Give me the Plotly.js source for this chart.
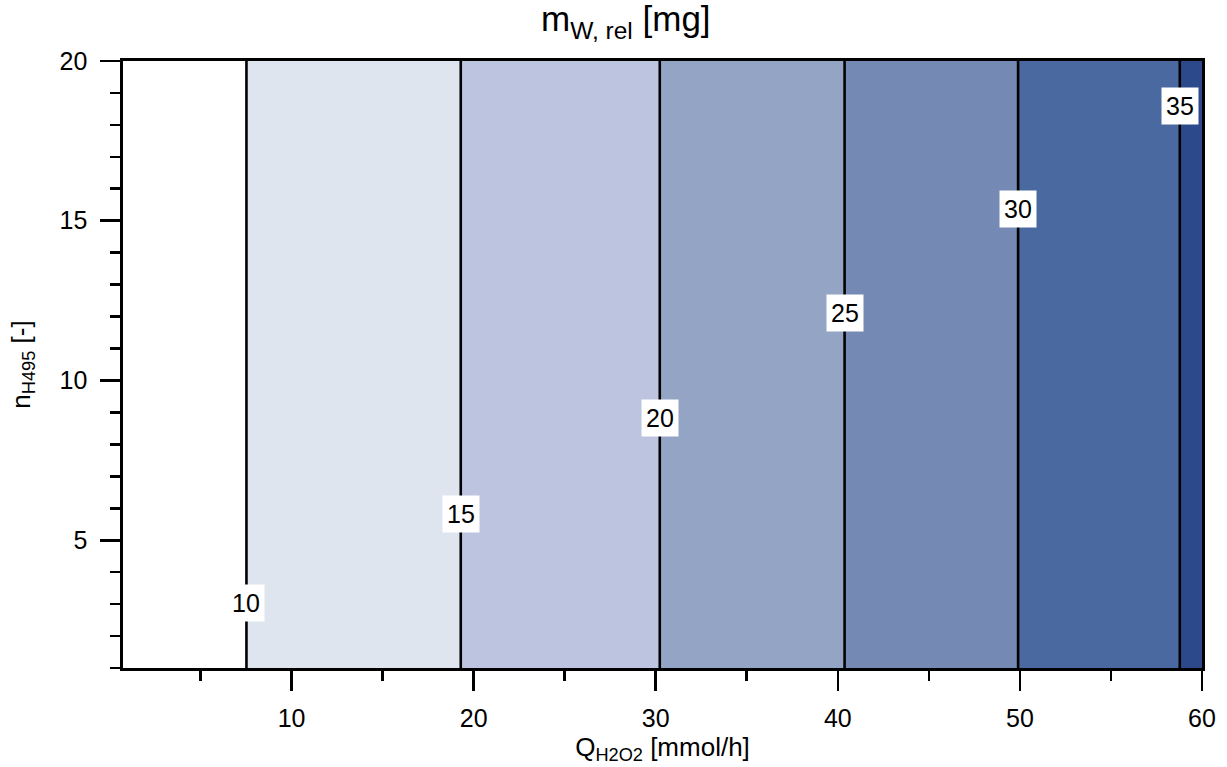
<!DOCTYPE html>
<html>
<head>
<meta charset="utf-8">
<script src="https://cdn.plot.ly/plotly-3.0.1.min.js"></script>
<style>html,body{margin:0;padding:0;background:#fff;}#chart{width:1227px;height:767px;}</style>
</head>
<body>
<div id="chart"></div>
<script>
// Q_H2O2 grid (mmol/h) and m_W,rel values (mg)
const qValues = [0.74, 7.52, 19.29, 30.22, 40.37, 49.90, 58.78, 60];
const mValues = [7.1, 10, 15, 20, 25, 30, 35, 35.7];
// n_H495 grid (-)
const nValues = [1, 20];
// contour levels and label heights
const levels = [10, 15, 20, 25, 30, 35];
const labelY = [3.04, 5.83, 8.83, 12.12, 15.37, 18.59];
// band colours (below 10, 10-15, ..., above 35)
const bandColors = ['#ffffff', '#dfe5ee', '#bdc4df', '#94a4c5', '#7489b3', '#4a69a0', '#2c4a8b'];

const zGrid = nValues.map(() => mValues.slice());

// step colorscale: band k sampled at k/(n-1)
const nb = bandColors.length;
const colorscale = [];
bandColors.forEach((c, k) => {
  const lo = k === 0 ? 0 : (k - 0.5) / (nb - 1);
  const hi = k === nb - 1 ? 1 : (k + 0.5) / (nb - 1);
  colorscale.push([lo, c]);
  colorscale.push([hi, c]);
});

// x of each level crossing, interpolated from the data arrays
function levelX(L) {
  for (let i = 0; i < mValues.length - 1; i++) {
    const a = mValues[i], b = mValues[i + 1];
    if ((L - a) * (L - b) <= 0 && a !== b) {
      return qValues[i] + (L - a) / (b - a) * (qValues[i + 1] - qValues[i]);
    }
  }
  return null;
}

const FONT = 'Liberation Sans, Arial, sans-serif';

const trace = {
  type: 'contour',
  x: qValues,
  y: nValues,
  z: zGrid,
  autocontour: false,
  contours: {start: levels[0], end: levels[levels.length - 1], size: 5, coloring: 'fill', showlabels: false},
  colorscale: colorscale,
  showscale: false,
  line: {color: '#000000', width: 2.6, smoothing: 0},
  hoverinfo: 'skip'
};

const annotations = levels.map((L, i) => ({
  x: levelX(L), y: labelY[i], xref: 'x', yref: 'y',
  text: String(L), showarrow: false,
  bgcolor: '#ffffff', borderpad: 4,
  font: {family: FONT, size: 25, color: '#000'}
}));

const axisCommon = {
  showgrid: false, zeroline: false,
  showline: true, linecolor: '#000', linewidth: 2.6, mirror: true,
  ticks: 'outside', ticklen: 20, tickwidth: 2.6, tickcolor: '#000',
  tickfont: {family: FONT, size: 25, color: '#000'}
};

const layout = {
  width: 1227, height: 767,
  margin: {l: 123, r: 25, t: 61, b: 99},
  paper_bgcolor: '#fff', plot_bgcolor: '#fff',
  title: {
    text: 'm<sub>W, rel</sub> [mg]',
    font: {family: FONT, size: 35, color: '#000'},
    x: 0.466, xref: 'paper', xanchor: 'center',
    y: 0.975, yref: 'container', yanchor: 'middle'
  },
  xaxis: Object.assign({}, axisCommon, {
    range: [qValues[0], 60], dtick: 10, tick0: 0,
    ticklabelstandoff: 6,
    minor: {dtick: 5, tick0: 0, ticks: 'outside', ticklen: 10, tickwidth: 2.6, tickcolor: '#000'},
    title: {text: 'Q<sub>H2O2</sub> [mmol/h]', font: {family: FONT, size: 26, color: '#000'}, standoff: 4}
  }),
  yaxis: Object.assign({}, axisCommon, {
    range: [1, 20], dtick: 5, tick0: 0,
    ticklabelstandoff: 8,
    minor: {dtick: 1, tick0: 0, ticks: 'outside', ticklen: 10, tickwidth: 2.6, tickcolor: '#000'},
    title: {text: 'n<sub>H495</sub> [-]', font: {family: FONT, size: 26, color: '#000'}, standoff: 22}
  }),
  annotations: annotations,
  showlegend: false
};

Plotly.newPlot('chart', [trace], layout, {displayModeBar: false, staticPlot: true});
</script>
</body>
</html>
